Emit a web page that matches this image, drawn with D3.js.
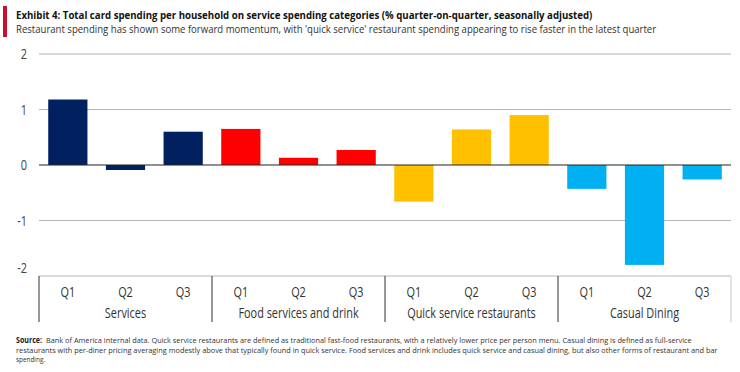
<!DOCTYPE html>
<html><head><meta charset="utf-8">
<script src="https://cdn.jsdelivr.net/npm/d3@7"></script>
<style>body{margin:0;background:#fff}svg{display:block}text{font-family:"Open Sans","Liberation Sans",sans-serif}</style>
</head><body><div id="chart"></div>
<script>
const groups = ["Services","Food services and drink","Quick service restaurants","Casual Dining"];
const quarters = ["Q1","Q2","Q3"];
const servicesVals = [1.18,-0.09,0.60];
const foodVals = [0.65,0.13,0.27];
const quickVals = [-0.66,0.64,0.90];
const casualVals = [-0.43,-1.80,-0.26];
const groupColors = ["#002060","#ff0000","#ffc000","#00b0f0"];
const yTicks = [2,1,0,-1,-2];
const title = "Exhibit 4: Total card spending per household on service spending categories (% quarter-on-quarter, seasonally adjusted)";
const subtitle = "Restaurant spending has shown some forward momentum, with 'quick service' restaurant spending appearing to rise faster in the latest quarter";
const sourceLabel = "Source:";
const sourceLines = [
 "Bank of America internal data. Quick service restaurants are defined as traditional fast-food restaurants, with a relatively lower price per person menu. Casual dining is defined as full-service",
 "restaurants with per-diner pricing averaging modestly above that typically found in quick service. Food services and drink includes quick service and casual dining, but also other forms of restaurant and bar",
 "spending."
];
const allVals = [servicesVals, foodVals, quickVals, casualVals];
const data = [];
groups.forEach((g,gi)=>quarters.forEach((q,qi)=>data.push({key:g+"|"+q,g,gi,q,v:allVals[gi][qi]})));

const W=740,H=372;
const svg=d3.select("#chart").append("svg").attr("width",W).attr("height",H);
const L=39,R=731,T=54,B=276;
const x=d3.scaleBand().domain(data.map(d=>d.key)).range([L,R]).paddingInner(0.32).paddingOuter(0.16);
const y=d3.scaleLinear().domain([-2,2]).range([B,T]);
const AX=0.78; // horizontal condensing of axis text

function place(sel, px, py, k, target){
  sel.each(function(){
    const s=d3.select(this);
    let kk=k;
    if(target){ kk=target/this.getComputedTextLength(); }
    s.attr("x",0).attr("y",0).attr("transform",`translate(${px},${py}) scale(${kk},1)`);
  });
}

// header
svg.append("rect").attr("x",3).attr("y",6).attr("width",4).attr("height",31).attr("fill","#c8102e");
const tt=svg.append("text").attr("font-size",10.8).attr("font-weight","bold").attr("fill","#111").text(title);
place(tt,16,18.8,null,577);
const st=svg.append("text").attr("font-size",10.8).attr("fill","#333").text(subtitle);
place(st,16,33.2,null,641);

// gridlines
svg.append("g").selectAll("line").data(yTicks.filter(t=>t!==0)).join("line")
  .attr("x1",L).attr("x2",R).attr("y1",d=>y(d)).attr("y2",d=>y(d)).attr("stroke","#b4b4b4").attr("stroke-width",1);
svg.append("g").selectAll("text").data(yTicks).join("text")
  .attr("text-anchor","end").attr("font-size",14).attr("fill","#444").text(d=>d)
  .each(function(d){ place(d3.select(this),27,y(d)+(d===-2?-3:5),AX); });

// bars
svg.append("g").selectAll("rect").data(data).join("rect")
  .attr("x",d=>x(d.key)).attr("width",x.bandwidth())
  .attr("y",d=>y(Math.max(0,d.v))).attr("height",d=>Math.abs(y(d.v)-y(0)))
  .attr("fill",d=>groupColors[d.gi]);
svg.append("line").attr("x1",L).attr("x2",R).attr("y1",y(0)).attr("y2",y(0)).attr("stroke","#222").attr("stroke-width",1.2);

// category axis
const gw=(R-L)/groups.length;
svg.selectAll(".ql").data(data).join("text").attr("class","ql")
  .attr("text-anchor","middle").attr("font-size",14).attr("fill","#333").text(d=>d.q)
  .each(function(d){ place(d3.select(this),x(d.key)+x.bandwidth()/2,297,AX); });
svg.selectAll(".gl").data(groups).join("text").attr("class","gl")
  .attr("text-anchor","middle").attr("font-size",14).attr("fill","#333").text(d=>d)
  .each(function(d,i){ place(d3.select(this),L+gw*(i+0.5),318,AX); });
const divs=d3.range(groups.length+1).map(i=>L+gw*i);
svg.selectAll(".dv").data(divs).join("line").attr("class","dv")
  .attr("x1",d=>d).attr("x2",d=>d).attr("y1",B).attr("y2",322)
  .attr("stroke",(d,i)=>i===groups.length?"#c8c8c8":"#333").attr("stroke-width",1);

// source
const sl=[343,352.5,362];
const sx=[46,16,16];
const lens=[647,702,null];
const lab=svg.append("text").attr("font-size",8).attr("font-weight","bold").attr("fill","#222").text(sourceLabel);
place(lab,16,sl[0],null,26);
sourceLines.forEach((ln,i)=>{
  const t=svg.append("text").attr("font-size",8).attr("fill","#333").text(ln);
  place(t,sx[i],sl[i],0.8,lens[i]);
});
</script></body></html>
